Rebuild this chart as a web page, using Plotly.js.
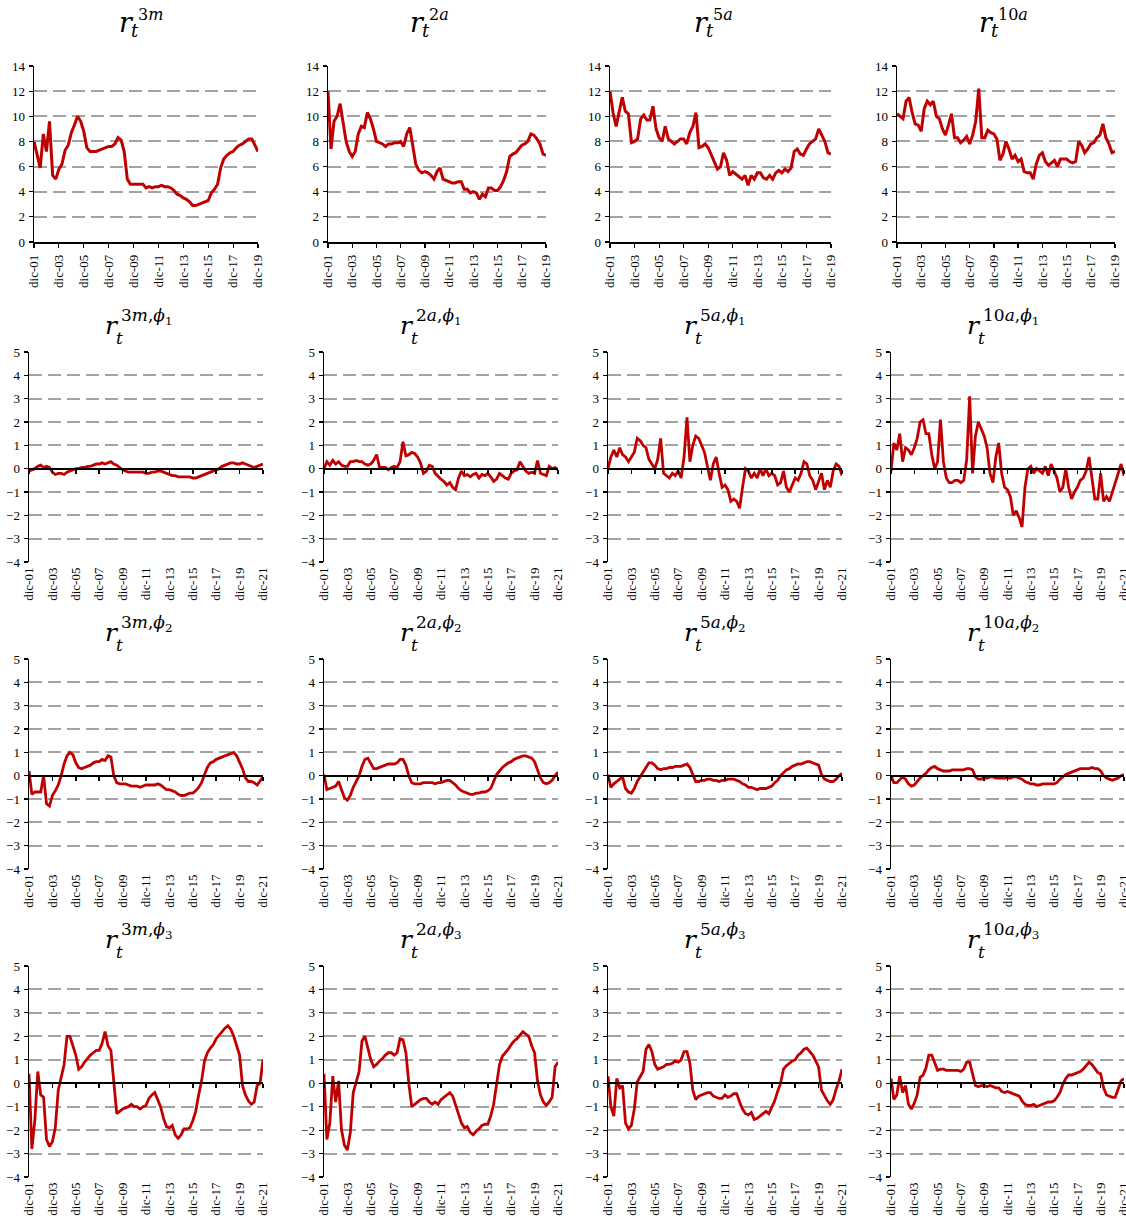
<!DOCTYPE html>
<html>
<head>
<meta charset="utf-8">
<script src="https://cdn.plot.ly/plotly-3.0.1.min.js"></script>
<style>html,body{margin:0;padding:0;background:#fff;}</style>
</head>
<body>
<div id="chart" style="width:1126px;height:1223px;"></div>
<script>
// ---------- Tick labels ----------
const ticksTo19 = ['dic-01','dic-03','dic-05','dic-07','dic-09','dic-11','dic-13','dic-15','dic-17','dic-19'];
const ticksTo21 = ['dic-01','dic-03','dic-05','dic-07','dic-09','dic-11','dic-13','dic-15','dic-17','dic-19','dic-21'];
const tickDatesTo19 = ['2001-12-01','2003-12-01','2005-12-01','2007-12-01','2009-12-01','2011-12-01','2013-12-01','2015-12-01','2017-12-01','2019-12-01'];
const tickDatesTo21 = ['2001-12-01','2003-12-01','2005-12-01','2007-12-01','2009-12-01','2011-12-01','2013-12-01','2015-12-01','2017-12-01','2019-12-01','2021-12-01'];

// ---------- Rates (%), quarterly from Dec-2001 ----------
const r3m = [8.0,7.0,5.9,8.6,7.2,9.6,5.3,5.0,5.8,6.2,
  7.3,7.7,8.7,9.3,10.0,9.6,8.8,7.5,7.2,7.2,
  7.2,7.3,7.4,7.5,7.6,7.6,7.8,8.3,8.1,7.2,
  5.0,4.6,4.6,4.6,4.6,4.6,4.3,4.4,4.3,4.4,
  4.4,4.5,4.4,4.4,4.3,4.1,3.8,3.7,3.5,3.4,
  3.2,2.9,2.9,3.0,3.1,3.2,3.3,3.9,4.2,4.6,
  5.9,6.6,6.9,7.1,7.2,7.5,7.7,7.8,8.0,8.2,
  8.2,7.7,7.2];
const r2a = [12.0,7.4,9.6,10.0,11.0,9.6,8.0,7.2,6.8,7.2,
  8.6,9.2,9.1,10.3,9.8,9.0,8.0,7.9,7.8,7.6,
  7.8,7.8,7.9,7.9,8.0,7.6,8.6,9.1,7.6,6.2,
  5.7,5.5,5.6,5.5,5.3,5.0,5.6,5.9,5.0,4.9,
  4.8,4.7,4.7,4.8,4.8,4.2,4.2,3.9,4.0,3.9,
  3.4,3.8,3.6,4.3,4.3,4.1,4.1,4.4,4.9,5.6,
  6.8,7.0,7.1,7.4,7.7,7.8,8.0,8.6,8.5,8.2,
  7.8,7.0,6.9];
const r5a = [12.0,10.3,9.2,10.3,11.5,10.4,10.2,7.9,8.0,8.2,
  9.8,10.1,9.7,9.7,10.8,9.0,8.3,8.0,9.2,8.2,
  8.0,7.8,8.0,8.2,8.2,7.8,8.7,9.2,10.3,7.5,
  7.6,7.8,7.5,6.9,6.4,5.8,6.0,7.1,6.5,5.3,
  5.6,5.4,5.2,5.0,5.3,4.5,5.3,5.0,5.5,5.5,
  5.1,5.0,5.3,5.0,5.5,5.7,5.5,5.8,5.6,5.9,
  7.2,7.4,7.0,6.9,7.4,7.8,8.0,8.2,9.0,8.5,
  8.0,7.1,7.0];
const r10a = [10.2,10.0,9.8,11.2,11.5,10.3,9.4,9.3,8.8,10.6,
  11.2,10.9,11.2,10.0,9.8,9.0,8.5,9.3,10.2,8.3,
  8.3,7.9,8.1,8.4,7.8,8.5,9.6,12.2,8.3,8.3,
  8.9,8.7,8.6,8.2,6.5,7.0,8.0,7.4,6.6,6.9,
  6.4,6.6,5.6,5.5,5.5,5.0,6.2,6.9,7.1,6.4,
  6.1,6.3,6.5,6.0,6.6,6.6,6.6,6.4,6.3,6.4,
  8.0,7.7,7.1,7.4,7.8,7.9,8.3,8.5,9.4,8.3,
  7.8,7.1,7.2];

// ---------- Component phi1 ----------
const r3mPhi1 = [-0.1,-0.05,0.0,0.1,0.15,0.05,0.1,0.05,-0.15,-0.25,
  -0.2,-0.2,-0.25,-0.15,-0.1,-0.05,0.0,0.0,0.05,0.05,
  0.1,0.1,0.15,0.2,0.2,0.25,0.2,0.25,0.3,0.2,
  0.15,0.05,-0.05,-0.1,-0.15,-0.15,-0.15,-0.15,-0.15,-0.15,
  -0.2,-0.2,-0.15,-0.15,-0.1,-0.1,-0.15,-0.2,-0.25,-0.3,
  -0.3,-0.35,-0.35,-0.35,-0.35,-0.35,-0.4,-0.4,-0.35,-0.3,
  -0.25,-0.2,-0.15,-0.1,-0.05,0.0,0.1,0.15,0.2,0.25,
  0.25,0.2,0.2,0.25,0.2,0.15,0.1,0.05,0.1,0.15,
  0.2];
const r2aPhi1 = [0.0,0.3,0.15,0.35,0.2,0.3,0.15,0.1,0.1,0.3,
  0.3,0.35,0.3,0.3,0.2,0.15,0.2,0.35,0.6,0.05,
  0.05,0.05,-0.05,0.05,0.1,0.05,0.3,1.15,0.55,0.6,
  0.7,0.65,0.5,0.25,-0.2,-0.1,0.15,0.1,-0.2,-0.35,
  -0.45,-0.55,-0.7,-0.6,-0.8,-0.9,-0.4,-0.1,-0.3,-0.25,
  -0.35,-0.25,-0.2,-0.4,-0.25,-0.3,-0.2,-0.35,-0.55,-0.45,
  -0.2,-0.3,-0.4,-0.45,-0.2,-0.1,-0.05,0.3,0.1,-0.1,
  -0.2,-0.15,-0.2,0.35,-0.2,-0.25,-0.3,0.1,0.0,0.05,
  -0.05];
const r5aPhi1 = [0.0,0.5,0.8,0.5,0.9,0.6,0.5,0.3,0.5,0.7,
  1.3,1.2,1.0,0.9,0.4,0.2,0.0,0.4,1.3,-0.2,
  -0.3,-0.4,-0.2,-0.3,-0.1,-0.4,0.5,2.2,0.3,1.0,
  1.4,1.3,1.0,0.7,0.1,-0.5,0.2,0.5,-0.2,-0.8,
  -0.7,-0.9,-1.4,-1.3,-1.4,-1.7,-0.8,0.0,-0.1,-0.4,
  -0.2,-0.4,0.0,-0.3,0.0,-0.3,-0.2,-0.3,-0.7,-0.6,
  -0.1,-0.8,-1.0,-0.7,-0.4,-0.5,-0.2,0.3,0.2,-0.3,
  -0.5,-0.9,-0.5,-0.2,-0.9,-0.5,-0.8,-0.1,0.2,0.1,
  -0.3];
const r10aPhi1 = [-0.1,1.1,0.8,1.5,0.3,0.9,0.8,0.6,0.9,1.3,
  2.0,2.1,1.5,1.5,0.6,0.0,0.3,2.1,0.3,-0.4,
  -0.6,-0.6,-0.5,-0.5,-0.6,-0.5,0.4,3.1,-0.2,1.4,
  2.0,1.7,1.4,0.9,-0.2,-0.6,0.5,1.1,-0.2,-0.8,
  -0.9,-1.2,-2.0,-1.8,-2.1,-2.5,-0.8,0.0,0.1,-0.2,
  0.0,-0.1,-0.2,0.1,-0.3,0.2,-0.1,-0.4,-1.0,-0.8,
  0.0,-0.8,-1.3,-1.0,-0.8,-0.5,-0.4,-0.1,0.5,-0.4,
  -1.3,-1.3,-0.2,-1.4,-1.2,-1.4,-1.0,-0.6,-0.2,0.2,
  -0.3];

// ---------- Component phi2 ----------
const r3mPhi2 = [0.2,-0.8,-0.7,-0.7,-0.7,0.0,-1.2,-1.3,-0.85,-0.65,
  -0.4,0.0,0.5,0.85,1.0,0.9,0.55,0.35,0.3,0.35,
  0.4,0.45,0.55,0.6,0.6,0.7,0.65,0.85,0.8,0.0,
  -0.3,-0.35,-0.35,-0.35,-0.4,-0.45,-0.45,-0.45,-0.5,-0.45,
  -0.4,-0.4,-0.4,-0.4,-0.35,-0.4,-0.5,-0.6,-0.6,-0.65,
  -0.7,-0.8,-0.85,-0.85,-0.8,-0.75,-0.75,-0.65,-0.5,-0.3,
  0.05,0.35,0.55,0.6,0.7,0.75,0.8,0.85,0.9,0.95,
  1.0,0.85,0.6,0.3,-0.1,-0.25,-0.25,-0.3,-0.4,-0.2,
  -0.05];
const r2aPhi2 = [0.05,-0.6,-0.55,-0.5,-0.45,-0.25,-0.6,-0.95,-1.05,-0.85,
  -0.5,-0.25,0.0,0.4,0.7,0.75,0.5,0.3,0.3,0.35,
  0.4,0.45,0.5,0.5,0.5,0.55,0.7,0.7,0.45,0.0,
  -0.3,-0.35,-0.35,-0.35,-0.3,-0.3,-0.3,-0.3,-0.35,-0.3,
  -0.3,-0.25,-0.2,-0.2,-0.3,-0.4,-0.55,-0.65,-0.7,-0.75,
  -0.8,-0.8,-0.75,-0.75,-0.7,-0.7,-0.65,-0.55,-0.25,0.05,
  0.2,0.35,0.45,0.55,0.6,0.7,0.75,0.8,0.85,0.85,
  0.8,0.75,0.6,0.25,-0.1,-0.3,-0.35,-0.3,-0.2,0.0,
  0.15];
const r5aPhi2 = [0.05,-0.5,-0.35,-0.25,-0.15,-0.05,-0.55,-0.7,-0.75,-0.55,
  -0.25,-0.05,0.1,0.35,0.55,0.55,0.45,0.3,0.25,0.3,
  0.3,0.35,0.35,0.4,0.4,0.4,0.45,0.5,0.35,0.05,
  -0.25,-0.25,-0.2,-0.2,-0.15,-0.15,-0.2,-0.2,-0.25,-0.2,
  -0.2,-0.15,-0.15,-0.15,-0.2,-0.25,-0.35,-0.4,-0.5,-0.5,
  -0.55,-0.6,-0.55,-0.55,-0.55,-0.5,-0.45,-0.3,-0.2,0.0,
  0.15,0.25,0.3,0.4,0.45,0.5,0.5,0.55,0.6,0.6,
  0.55,0.5,0.45,0.05,-0.15,-0.2,-0.25,-0.25,-0.15,0.0,
  0.1];
const r10aPhi2 = [0.0,-0.3,-0.3,-0.15,-0.05,-0.15,-0.35,-0.45,-0.4,-0.25,
  -0.1,0.0,0.1,0.25,0.35,0.4,0.3,0.25,0.2,0.2,
  0.2,0.25,0.25,0.25,0.25,0.25,0.3,0.3,0.25,-0.05,
  -0.15,-0.15,-0.1,-0.1,-0.05,-0.05,-0.1,-0.1,-0.1,-0.1,
  -0.1,-0.1,-0.05,-0.05,-0.1,-0.15,-0.25,-0.3,-0.35,-0.35,
  -0.4,-0.4,-0.35,-0.35,-0.35,-0.35,-0.35,-0.3,-0.15,-0.05,
  0.05,0.1,0.15,0.2,0.25,0.3,0.3,0.3,0.3,0.35,
  0.3,0.3,0.2,0.0,-0.1,-0.15,-0.2,-0.15,-0.1,0.0,
  0.05];

// ---------- Component phi3 ----------
const r3mPhi3 = [0.4,-2.8,-1.6,0.5,-0.5,-0.6,-2.4,-2.7,-2.5,-1.9,
  -0.3,0.2,0.8,2.0,2.0,1.6,1.2,0.6,0.7,0.9,
  1.05,1.2,1.3,1.4,1.4,1.7,2.2,1.6,1.4,-0.1,
  -1.3,-1.2,-1.1,-1.05,-1.0,-0.9,-1.0,-1.0,-1.1,-1.0,
  -0.95,-0.65,-0.5,-0.4,-0.7,-1.0,-1.5,-1.85,-1.9,-1.8,
  -2.2,-2.35,-2.2,-1.95,-1.95,-1.9,-1.6,-1.2,-0.5,0.1,
  0.95,1.3,1.5,1.65,1.9,2.05,2.2,2.35,2.45,2.3,
  2.0,1.6,1.2,-0.1,-0.5,-0.75,-0.9,-0.8,-0.1,0.0,
  1.0];
const r2aPhi3 = [0.4,-2.4,-1.7,0.3,-0.8,0.1,-2.0,-2.65,-2.85,-2.1,
  -0.4,0.0,0.5,1.8,2.0,1.5,1.0,0.7,0.8,0.95,
  1.05,1.2,1.3,1.3,1.2,1.3,1.9,1.85,1.3,0.0,
  -1.0,-0.9,-0.8,-0.7,-0.65,-0.65,-0.8,-0.9,-0.8,-0.9,
  -0.7,-0.6,-0.5,-0.4,-0.55,-0.9,-1.35,-1.7,-1.9,-1.85,
  -2.1,-2.2,-2.05,-1.95,-1.8,-1.75,-1.75,-1.4,-0.9,-0.1,
  0.8,1.15,1.3,1.45,1.65,1.8,1.9,2.05,2.2,2.1,
  2.0,1.6,1.3,0.1,-0.5,-0.8,-0.95,-0.8,-0.6,0.7,
  0.9];
const r5aPhi3 = [0.3,-1.0,-1.4,0.2,-0.2,-0.1,-1.7,-1.95,-1.8,-1.1,
  0.05,0.25,0.5,1.45,1.65,1.35,0.8,0.6,0.65,0.7,
  0.8,0.8,0.85,0.95,0.9,1.0,1.35,1.35,0.85,-0.3,
  -0.7,-0.55,-0.5,-0.45,-0.4,-0.4,-0.55,-0.6,-0.65,-0.65,
  -0.5,-0.6,-0.55,-0.45,-0.45,-0.8,-1.1,-1.3,-1.35,-1.25,
  -1.55,-1.5,-1.4,-1.3,-1.2,-1.3,-1.0,-0.75,-0.35,0.0,
  0.6,0.75,0.85,0.95,1.0,1.2,1.3,1.45,1.5,1.35,
  1.2,0.95,0.7,-0.3,-0.55,-0.75,-0.9,-0.7,-0.25,0.1,
  0.6];
const r10aPhi3 = [0.2,-0.7,-0.5,0.3,-0.4,-0.1,-0.9,-1.1,-0.85,-0.5,
  0.25,0.35,0.65,1.2,1.2,0.85,0.55,0.6,0.6,0.55,
  0.55,0.55,0.55,0.55,0.5,0.6,0.9,0.9,0.4,-0.1,
  -0.15,-0.1,-0.1,-0.15,-0.1,-0.15,-0.2,-0.2,-0.35,-0.4,
  -0.35,-0.4,-0.45,-0.5,-0.55,-0.75,-0.9,-0.95,-0.95,-0.9,
  -1.0,-0.95,-0.9,-0.85,-0.8,-0.8,-0.75,-0.6,-0.4,-0.05,
  0.2,0.35,0.35,0.4,0.45,0.5,0.6,0.75,0.9,0.8,
  0.6,0.45,0.4,-0.2,-0.5,-0.55,-0.6,-0.6,-0.2,0.1,
  0.2];

// ---------- Figure geometry (pixels) ----------
const W = 1126, H = 1223;
const RED = '#c00000';
const SERIF = '"Liberation Serif", "Times New Roman", serif';
const MATH = '"DejaVu Serif", serif';
const colsTop = [[34,258],[328,546],[610,831],[897,1115]];
const colsLow = [[29,263],[324,558],[608,842],[891,1124]];
const rowsY = [[66,242],[352,562],[659,869],[966,1177]];

// quarterly date stamps starting December 2001
function quarterly(n) {
  const out = [];
  for (let i = 0; i < n; i++) {
    const m = 11 + 3 * i;
    const yr = 2001 + Math.floor(m / 12);
    const mo = (m % 12) + 1;
    out.push(yr + '-' + String(mo).padStart(2, '0') + '-01');
  }
  return out;
}

const panels = [
  {y: r3m, sup: '3<i>m</i>'},
  {y: r2a, sup: '2<i>a</i>'},
  {y: r5a, sup: '5<i>a</i>'},
  {y: r10a, sup: '10<i>a</i>'},
  {y: r3mPhi1, sup: '3<i>m</i>,<i>ϕ</i><sub>1</sub>'},
  {y: r2aPhi1, sup: '2<i>a</i>,<i>ϕ</i><sub>1</sub>'},
  {y: r5aPhi1, sup: '5<i>a</i>,<i>ϕ</i><sub>1</sub>'},
  {y: r10aPhi1, sup: '10<i>a</i>,<i>ϕ</i><sub>1</sub>'},
  {y: r3mPhi2, sup: '3<i>m</i>,<i>ϕ</i><sub>2</sub>'},
  {y: r2aPhi2, sup: '2<i>a</i>,<i>ϕ</i><sub>2</sub>'},
  {y: r5aPhi2, sup: '5<i>a</i>,<i>ϕ</i><sub>2</sub>'},
  {y: r10aPhi2, sup: '10<i>a</i>,<i>ϕ</i><sub>2</sub>'},
  {y: r3mPhi3, sup: '3<i>m</i>,<i>ϕ</i><sub>3</sub>'},
  {y: r2aPhi3, sup: '2<i>a</i>,<i>ϕ</i><sub>3</sub>'},
  {y: r5aPhi3, sup: '5<i>a</i>,<i>ϕ</i><sub>3</sub>'},
  {y: r10aPhi3, sup: '10<i>a</i>,<i>ϕ</i><sub>3</sub>'}
];

const traces = [];
const annotations = [];
const layout = {
  width: W, height: H,
  margin: {l: 0, r: 0, t: 0, b: 0},
  paper_bgcolor: '#ffffff', plot_bgcolor: '#ffffff',
  showlegend: false,
  annotations: annotations
};

const px = v => v / W;
const py = v => 1 - v / H;

function addText(left, baseline, size, text, extraDrop) {
  annotations.push({
    xref: 'paper', yref: 'paper', showarrow: false,
    x: px(left), y: py(baseline + size * (0.24 + (extraDrop || 0))),
    xanchor: 'left', yanchor: 'bottom', borderpad: 0,
    text: text, font: {family: MATH, size: size, color: '#000'}
  });
}

panels.forEach((p, i) => {
  const row = Math.floor(i / 4), col = i % 4;
  const [x0, x1] = row === 0 ? colsTop[col] : colsLow[col];
  const [yt, yb] = rowsY[row];
  const n = i + 1;
  const tickText = row === 0 ? ticksTo19 : ticksTo21;
  const tickDates = row === 0 ? tickDatesTo19 : tickDatesTo21;
  const xRange = [tickDates[0], tickDates[tickDates.length - 1]];
  const yRange = row === 0 ? [0, 14] : [-4, 5];

  traces.push({
    type: 'scatter', mode: 'lines',
    x: quarterly(p.y.length), y: p.y,
    xaxis: 'x' + n, yaxis: 'y' + n,
    line: {color: RED, width: row === 0 ? 3 : 2.8},
    hoverinfo: 'skip'
  });

  layout['xaxis' + n] = {
    domain: [px(x0), px(x1)], anchor: 'y' + n,
    type: 'date', range: xRange,
    tickmode: 'array', tickvals: tickDates, ticktext: tickText,
    tickangle: -90, ticklabelstandoff: 2, ticklabeloverflow: 'allow',
    tickfont: {family: SERIF, size: 13, color: '#000'},
    showgrid: false, zeroline: false,
    showline: row === 0, linecolor: '#000', linewidth: 1.5,
    ticks: row === 0 ? 'outside' : '', ticklen: 4, tickcolor: '#000', tickwidth: 1.2,
    fixedrange: true
  };
  layout['yaxis' + n] = {
    domain: [py(yb), py(yt)], anchor: 'x' + n,
    range: yRange, tickmode: 'linear', tick0: yRange[0], dtick: row === 0 ? 2 : 1,
    tickfont: {family: SERIF, size: 13, color: '#000'},
    ticks: 'outside', ticklen: 4, tickcolor: '#000', tickwidth: 1.2, ticklabelstandoff: 1,
    showline: true, linecolor: '#000', linewidth: 1.5,
    showgrid: true, gridcolor: '#a3a3a3', gridwidth: 2, griddash: '13px,6px',
    zeroline: false, fixedrange: true
  };

  // black zero axis with tick marks for the decomposition panels
  if (row > 0) {
    const k = 16 + n - 4;
    const zeroFrac = (0 - yRange[0]) / (yRange[1] - yRange[0]);
    const zeroPos = py(yb) + zeroFrac * (py(yt) - py(yb));
    layout['xaxis' + k] = {
      overlaying: 'x' + n, anchor: 'free', position: zeroPos,
      type: 'date', range: xRange,
      tickmode: 'array', tickvals: tickDates, showticklabels: false,
      ticks: 'outside', ticklen: 4, tickwidth: 1.5, tickcolor: '#000',
      showline: true, linecolor: '#000', linewidth: 2,
      showgrid: false, zeroline: false, fixedrange: true
    };
    traces.push({type: 'scatter', mode: 'lines', x: [], y: [],
      xaxis: 'x' + k, yaxis: 'y' + n, hoverinfo: 'skip'});
  }

  // panel title r_t^{...}
  const cx = (x0 + x1) / 2;
  if (row === 0) {
    addText(cx - 28, yt - 33, 27, '<i>r</i>');
    addText(cx - 16, yt - 28, 18, '<i>t</i>');
    addText(cx - 9, yt - 45, 16, p.sup);
  } else {
    addText(cx - 42, yt - 17, 25, '<i>r</i>');
    addText(cx - 31, yt - 7, 17, '<i>t</i>');
    addText(cx - 26, yt - 31, 17, p.sup, 0.23);
  }
});

Plotly.newPlot('chart', traces, layout, {displayModeBar: false, staticPlot: true});
</script>
</body>
</html>
